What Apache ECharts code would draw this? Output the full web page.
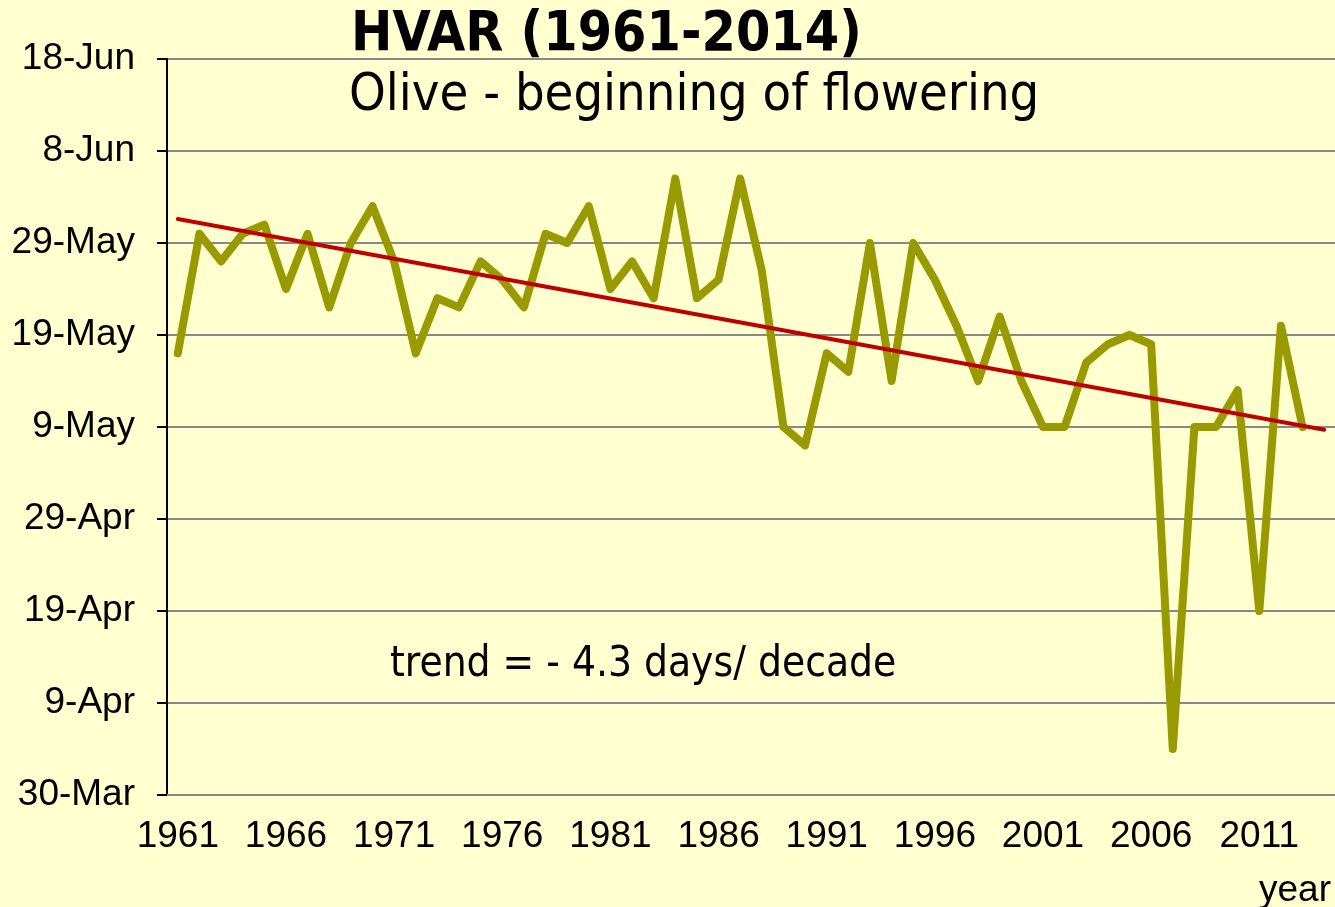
<!DOCTYPE html>
<html>
<head>
<meta charset="utf-8">
<script src="https://cdn.jsdelivr.net/npm/echarts@6/dist/echarts.min.js"></script>
<style>
html,body{margin:0;padding:0;background:#FFFFD0;}
#chart{width:1335px;height:907px;}
</style>
</head>
<body>
<div id="chart"></div>
<script>
// Years (categories)
const years = ['1961','1962','1963','1964','1965','1966','1967','1968','1969','1970',
  '1971','1972','1973','1974','1975','1976','1977','1978','1979','1980',
  '1981','1982','1983','1984','1985','1986','1987','1988','1989','1990',
  '1991','1992','1993','1994','1995','1996','1997','1998','1999','2000',
  '2001','2002','2003','2004','2005','2006','2007','2008','2009','2010',
  '2011','2012','2013','2014'];
// Beginning of flowering, days after 30-Mar
const flowering = [48,61,58,61,62,55,61,53,60,64,
  58,48,54,53,58,56,53,61,60,64,
  55,58,54,67,54,56,67,57,40,38,
  48,46,60,45,60,56,51,45,52,45,
  40,40,47,49,50,49,5,40,40,44,
  20,51,40,null];
// Linear trend endpoints (days after 30-Mar)
const trendYears = ['1961','2014'];
const trendValues = [62.6, 39.7];
// Y tick labels (every 10 days from 30-Mar)
const yTickLabels = ['30-Mar','9-Apr','19-Apr','29-Apr','9-May','19-May','29-May','8-Jun','18-Jun'];

const chart = echarts.init(document.getElementById('chart'));
chart.setOption({
  backgroundColor: '#FFFFD0',
  animation: false,
  title: [
    {text: 'HVAR (1961-2014)', left: 346, top: 3,
     textStyle: {fontFamily: 'DejaVu Sans Condensed', fontWeight: 'bold', fontSize: 55, color: '#000'}},
    {text: 'Olive - beginning of flowering', left: 344, top: 65,
     textStyle: {fontFamily: 'DejaVu Sans Condensed', fontWeight: 'normal', fontSize: 52, color: '#000'}}
  ],
  graphic: [
    {type: 'text', left: 390, top: 644,
     style: {text: 'trend = - 4.3 days/ decade', font: '42px "DejaVu Sans Condensed"', fill: '#000'}},
    {type: 'text', right: 4, top: 872,
     style: {text: 'year', font: '37px "Liberation Sans"', fill: '#000'}}
  ],
  grid: {left: 167, top: 59, width: 1172, height: 736, containLabel: false},
  xAxis: {
    type: 'category', data: years, boundaryGap: true,
    axisLine: {lineStyle: {color: '#888888', width: 2}},
    axisTick: {interval: 4, length: 10, lineStyle: {color: '#888888', width: 2}},
    axisLabel: {interval: 4, margin: 23, fontFamily: 'Liberation Sans', fontSize: 37, color: '#000'},
    splitLine: {show: false}
  },
  yAxis: {
    type: 'value', min: 0, max: 80, interval: 10,
    axisLine: {show: true, lineStyle: {color: '#000', width: 2}},
    axisTick: {show: true, length: 10, lineStyle: {color: '#000', width: 2}},
    axisLabel: {margin: 32, fontFamily: 'Liberation Sans', fontSize: 37, color: '#000',
      formatter: v => yTickLabels[Math.round(v / 10)]},
    splitLine: {show: true, lineStyle: {color: '#888888', width: 2}}
  },
  series: [
    {type: 'line', data: flowering, symbol: 'none',
     lineStyle: {color: '#999900', width: 8, join: 'round', cap: 'round'}, z: 3},
    {type: 'line', data: trendYears.map((y, i) => [y, trendValues[i]]), symbol: 'none',
     lineStyle: {color: '#C00000', width: 4, cap: 'round'}, z: 4}
  ]
});
</script>
</body>
</html>
